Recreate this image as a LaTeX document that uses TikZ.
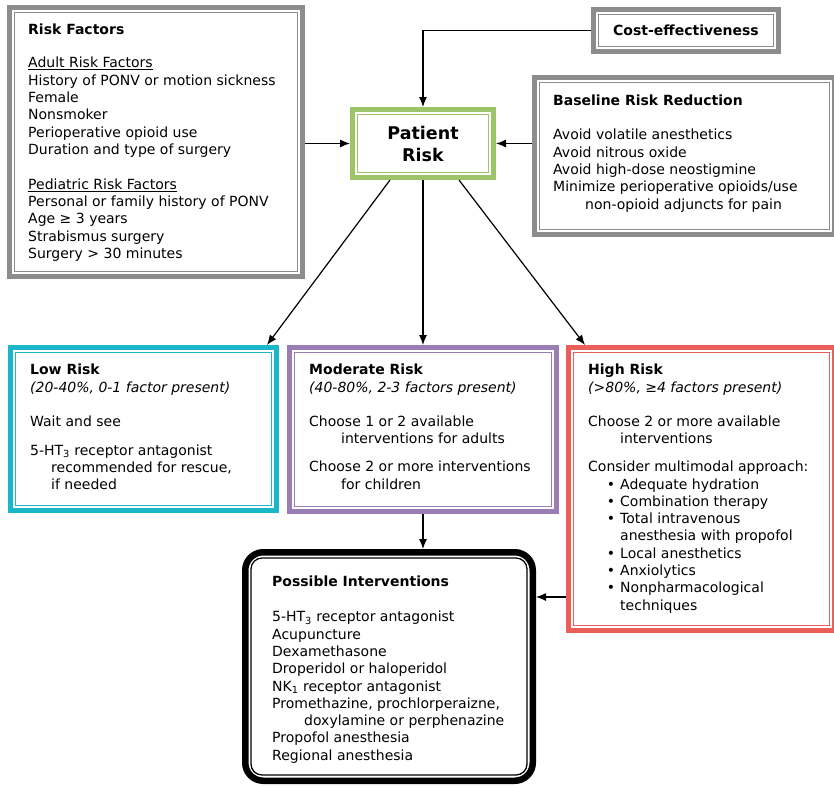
\documentclass[tikz,border=0pt]{standalone}
\usepackage{fontspec}
\setmainfont{DejaVu Sans}
\usepackage{tikz}
\usetikzlibrary{arrows.meta,positioning,calc}

\definecolor{boxgray}{HTML}{8C8C8C}
\definecolor{riskgreen}{HTML}{9DC468}
\definecolor{lowcyan}{HTML}{1AB7CB}
\definecolor{modpurple}{HTML}{9B7DB6}
\definecolor{highred}{HTML}{EB5F5B}

\begin{document}
\begin{tikzpicture}[x=1pt,y=-1pt,
	box/.style={draw=#1, line width=5pt, rectangle, inner sep=0pt},
	txt/.style={anchor=north west, align=left, inner sep=0pt, font=\fontsize{14}{17.3}\selectfont},
	arr/.style={-{Latex[length=10pt,width=8pt]}, line width=1.2pt}]
	\useasboundingbox (0,0) rectangle (834,785);

	% boxes
	\node[box=boxgray, minimum width=293pt, minimum height=269pt] (riskfactors) at (156,142) {};
	\node[box=boxgray, minimum width=185pt, minimum height=42pt, font=\fontsize{14}{16}\selectfont\bfseries] (cost) at (686,30.5) {Cost-effectiveness};
	\node[box=boxgray, minimum width=300pt, minimum height=157pt] (baseline) at (684.5,156) {};
	\node[box=riskgreen, minimum width=141pt, minimum height=68pt, align=center, font=\fontsize{17.5}{22}\selectfont\bfseries] (patient) at (423,143.5) {Patient\\Risk};
	\node[box=lowcyan, minimum width=266pt, minimum height=163pt] (low) at (143.5,429) {};
	\node[box=modpurple, minimum width=267pt, minimum height=164pt] (moderate) at (423,429.5) {};
	\node[box=highred, minimum width=266pt, minimum height=283pt] (high) at (701.5,489) {};
	\node[box=black, line width=6.5pt, rounded corners=18pt, minimum width=287.5pt, minimum height=228.5pt] (possible) at (389,666.5) {};

	% inner lines
	\foreach \b/\c in {riskfactors/boxgray, cost/boxgray, baseline/boxgray, patient/riskgreen, low/lowcyan, moderate/modpurple, high/highred}
		\draw[\c, line width=1.4pt] ([shift={(7.5pt,-7.5pt)}]\b.north west) rectangle ([shift={(-7.5pt,7.5pt)}]\b.south east);
	\draw[line width=1.3pt, rounded corners=11pt] ([shift={(9pt,-9pt)}]possible.north west) rectangle ([shift={(-9pt,9pt)}]possible.south east);

	% texts
	\node[txt] (rfText) at (28,24) {\textbf{Risk Factors}\\[15.7pt]
		\underline{Adult Risk Factors}\\
		History of PONV or motion sickness\\
		Female\\
		Nonsmoker\\
		Perioperative opioid use\\
		Duration and type of surgery\\[17.7pt]
		\underline{Pediatric Risk Factors}\\
		Personal or family history of PONV\\
		Age ≥ 3 years\\
		Strabismus surgery\\
		Surgery > 30 minutes};
	\node[txt] (baseText) at (553,95) {\textbf{Baseline Risk Reduction}\\[16.7pt]
		Avoid volatile anesthetics\\
		Avoid nitrous oxide\\
		Avoid high-dose neostigmine\\
		Minimize perioperative opioids/use\\
		\hspace*{32pt}non-opioid adjuncts for pain};
	\node[txt] (lowText) at (30,364) {\textbf{Low Risk}\\
		\textit{(20-40\%, 0-1 factor present)}\\[16.7pt]
		Wait and see\\[11.7pt]
		5-HT\textsubscript{3} receptor antagonist\\
		\hspace*{21pt}recommended for rescue,\\
		\hspace*{21pt}if needed};
	\node[txt] (modText) at (309,364) {\textbf{Moderate Risk}\\
		\textit{(40-80\%, 2-3 factors present)}\\[16.7pt]
		Choose 1 or 2 available\\
		\hspace*{32pt}interventions for adults\\[11pt]
		Choose 2 or more interventions\\
		\hspace*{32pt}for children};
	\node[txt] (highText) at (588,364) {\textbf{High Risk}\\
		\textit{(>80\%, ≥4 factors present)}\\[16.7pt]
		Choose 2 or more available\\
		\hspace*{32pt}interventions\\[11pt]
		Consider multimodal approach:\\
		\makebox[32pt][r]{•\hspace{5pt}}Adequate hydration\\
		\makebox[32pt][r]{•\hspace{5pt}}Combination therapy\\
		\makebox[32pt][r]{•\hspace{5pt}}Total intravenous\\
		\hspace*{32pt}anesthesia with propofol\\
		\makebox[32pt][r]{•\hspace{5pt}}Local anesthetics\\
		\makebox[32pt][r]{•\hspace{5pt}}Anxiolytics\\
		\makebox[32pt][r]{•\hspace{5pt}}Nonpharmacological\\
		\hspace*{32pt}techniques};
	\node[txt] (possText) at (272,576) {\textbf{Possible Interventions}\\[17.7pt]
		5-HT\textsubscript{3} receptor antagonist\\
		Acupuncture\\
		Dexamethasone\\
		Droperidol or haloperidol\\
		NK\textsubscript{1} receptor antagonist\\
		Promethazine, prochlorperaizne,\\
		\hspace*{32pt}doxylamine or perphenazine\\
		Propofol anesthesia\\
		Regional anesthesia};

	% connectors
	\draw[arr] (cost.west) -| (patient.north);
	\draw[arr] (patient.west -| riskfactors.east) -- (patient.west);
	\draw[arr] (patient.east -| baseline.west) -- (patient.east);
	\draw[arr] ([xshift=-33pt]patient.south) -- ([xshift=-12pt]low.north east);
	\draw[arr] (patient.south) -- (moderate.north);
	\draw[arr] ([xshift=36pt]patient.south) -- ([xshift=19pt]high.north west);
	\draw[arr] (moderate.south) -- (moderate.south |- possible.north);
	\coordinate (hp) at (566,597);
	\draw[arr] (hp) -- (hp -| possible.east);
\end{tikzpicture}
\end{document}
